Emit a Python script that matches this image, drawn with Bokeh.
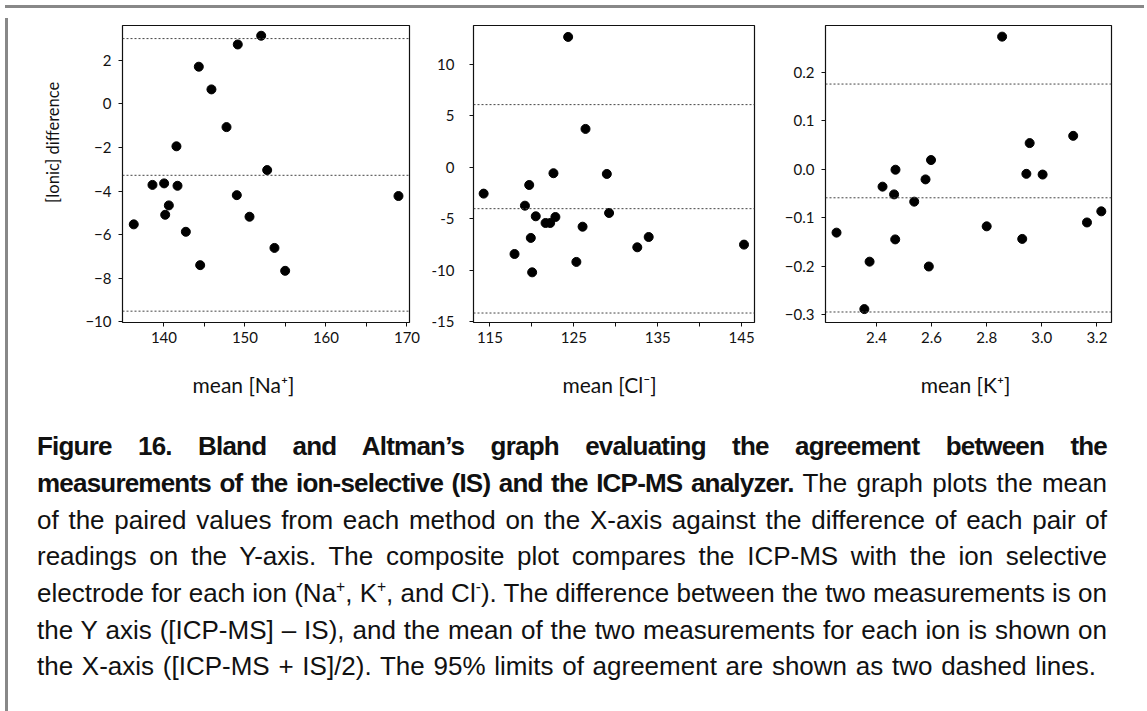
from bokeh.plotting import figure
from bokeh.models import Span, FixedTicker, CustomJSTickFormatter, Range1d, Div
from bokeh.layouts import row, column
from bokeh.core.properties import value
from bokeh.embed import file_html
from bokeh.resources import INLINE

# ---------------- data ----------------
na_mean = [136.27, 138.58, 140.02, 140.15, 140.60, 141.54, 141.67, 142.70, 144.30, 144.47,
           145.86, 147.72, 149.11, 148.99, 150.56, 152.00, 152.74, 153.64, 154.96, 168.95]
na_diff = [-5.53, -3.72, -3.65, -5.09, -4.66, -1.95, -3.76, -5.87, 1.70, -7.40,
           0.66, -1.07, 2.72, -4.19, -5.18, 3.12, -3.04, -6.61, -7.66, -4.23]
na_limits = [2.99, -3.28, -9.51]

cl_mean = [114.25, 117.93, 119.17, 119.68, 119.87, 120.03, 120.46, 121.63, 122.18, 122.57,
           122.80, 124.32, 125.30, 126.04, 126.39, 128.93, 129.20, 132.56, 133.92, 145.28]
cl_diff = [-2.56, -8.42, -3.73, -1.72, -6.86, -10.20, -4.76, -5.41, -5.41, -0.58,
           -4.83, 12.65, -9.19, -5.77, 3.72, -0.65, -4.44, -7.77, -6.77, -7.51]
cl_limits = [6.08, -4.02, -14.15]

k_mean = [2.255, 2.356, 2.375, 2.422, 2.464, 2.469, 2.468, 2.537, 2.578, 2.590,
          2.598, 2.800, 2.856, 2.929, 2.944, 2.956, 3.003, 3.114, 3.164, 3.216]
k_diff = [-0.131, -0.289, -0.191, -0.036, -0.052, -0.001, -0.145, -0.067, -0.021, -0.201,
          0.019, -0.118, 0.274, -0.144, -0.0095, 0.054, -0.011, 0.069, -0.110, -0.087]
k_limits = [0.176, -0.059, -0.295]

na_xticks, na_xminor = [140, 150, 160, 170], [145, 155, 165]
cl_xticks, cl_xminor = [115, 125, 135, 145], [120, 130, 140]
k_xticks, k_xminor = [2.4, 2.6, 2.8, 3.0, 3.2], []
na_yticks = [-10, -8, -6, -4, -2, 0, 2]
cl_yticks = [-15, -10, -5, 0, 5, 10]
k_yticks = [-0.3, -0.2, -0.1, 0.0, 0.1, 0.2]

x_titles = ["mean [Na\u207a]", "mean [Cl\u207b]", "mean [K\u207a]"]
y_title = "[Ionic] difference"

caption_lines = [
    "<b>Figure 16. Bland and Altman\u2019s graph evaluating the agreement between the</b>",
    "<b>measurements of the ion-selective (IS) and the ICP-MS analyzer.</b> The graph plots the mean",
    "of the paired values from each method on the X-axis against the difference of each pair of",
    "readings on the Y-axis. The composite plot compares the ICP-MS with the ion selective",
    "electrode for each ion (Na<sup>+</sup>, K<sup>+</sup>, and Cl<sup>-</sup>). The difference between the two measurements is on",
    "the Y axis ([ICP-MS] \u2013 IS), and the mean of the two measurements for each ion is shown on",
    "the X-axis ([ICP-MS + IS]/2). The 95% limits of agreement are shown as two dashed lines.",
]

FONT = "Lato"
INK = "#111111"

minus_int = CustomJSTickFormatter(code="return tick < 0 ? '\u2212' + Math.abs(tick) : String(tick);")
minus_dec = CustomJSTickFormatter(code="return tick < 0 ? '\u2212' + Math.abs(tick).toFixed(1) : Math.abs(tick).toFixed(1);")
plain_int = CustomJSTickFormatter(code="return String(tick);")
plain_dec = CustomJSTickFormatter(code="return tick.toFixed(1);")

PANEL_H = 348


def panel(xs, ys, limits, xr, yr, xticks, xminor, yticks, xfmt, yfmt,
          width, left, right, ystand):
    p = figure(width=width, height=PANEL_H, x_range=Range1d(*xr), y_range=Range1d(*yr),
               output_backend="svg", toolbar_location=None,
               min_border_left=left, min_border_right=right,
               min_border_top=12, min_border_bottom=PANEL_H - 12 - 297)
    p.xgrid.visible = False
    p.ygrid.visible = False
    p.outline_line_color = INK
    p.outline_line_width = 1.2
    p.border_fill_color = "white"
    p.background_fill_color = "white"
    for lim in limits:
        p.add_layout(Span(location=lim, dimension="width", line_color="#444444",
                          line_dash="2 2", line_width=1))
    p.scatter(xs, ys, size=9, color="black")

    p.xaxis.ticker = FixedTicker(ticks=xticks, minor_ticks=xminor)
    p.yaxis.ticker = FixedTicker(ticks=yticks, minor_ticks=[])
    p.xaxis.formatter = xfmt
    p.yaxis.formatter = yfmt
    for ax in (p.xaxis, p.yaxis):
        ax.axis_line_color = None
        ax.major_tick_in = 0
        ax.major_tick_out = 4
        ax.minor_tick_in = 0
        ax.minor_tick_out = 4
        ax.major_tick_line_color = INK
        ax.minor_tick_line_color = INK
        ax.major_label_text_font = FONT
        ax.major_label_text_font_size = "15px"
        ax.major_label_text_color = INK
    p.xaxis.major_label_standoff = 5
    p.yaxis.major_label_standoff = ystand
    return p


def blank(width, height):
    f = figure(width=width, height=height, x_range=Range1d(0, width), y_range=Range1d(0, height),
               output_backend="svg", toolbar_location=None, x_axis_type=None, y_axis_type=None,
               min_border=0)
    f.xgrid.visible = False
    f.ygrid.visible = False
    f.outline_line_color = None
    f.border_fill_color = "white"
    f.background_fill_color = "white"
    return f


# y-axis title strip (left of the first panel)
yt = blank(65, PANEL_H)
yt.text(x=[39], y=[PANEL_H - 137], text=[y_title], angle=1.5707963,
        text_align="center", text_baseline="middle",
        text_font=value(FONT), text_font_size=value("16.5px"), text_color=INK)

p1 = panel(na_mean, na_diff, na_limits, (134.88, 170.31), (-10.03, 3.59),
           na_xticks, na_xminor, na_yticks, plain_int, minus_int, 350, 44, 19, 7)
p2 = panel(cl_mean, cl_diff, cl_limits, (113.04, 146.53), (-15.07, 13.76),
           cl_xticks, cl_xminor, cl_yticks, plain_int, plain_int, 352, 40, 26, 15)
p3 = panel(k_mean, k_diff, k_limits, (2.215, 3.253), (-0.3167, 0.297),
           k_xticks, k_xminor, k_yticks, plain_dec, minus_dec, 347, 45, 16, 7)

# x-axis title strip (below the panels)
STRIP_H = 50
xt = blank(1114, STRIP_H)
xt.text(x=[230, 596, 952], y=[STRIP_H - 23] * 3, text=x_titles,
        text_align="center", text_baseline="middle",
        text_font=value(FONT), text_font_size=value("21px"), text_color=INK)

body = "".join(
    '<div style="text-align:justify;text-align-last:justify;word-spacing:-4px;">%s</div>' % ln
    for ln in caption_lines[:-1]
) + '<div style="text-align:left;word-spacing:1.5px;">%s</div>' % caption_lines[-1]
body = body.replace("<b>", '<b style="letter-spacing:-0.8px;">')
body = body.replace("<sup>", '<sup style="font-size:60%;line-height:0;">')
caption_html = (
    '<div style="box-sizing:content-box;padding:12.2px 0 0 19px;width:1070px;'
    "font-family:'Liberation Sans',Arial,sans-serif;font-size:26px;line-height:36.7px;"
    'color:#111111;">' + body + "</div>"
)
cap = Div(text=caption_html, width=1136, height=302)

topbar = Div(text="", width=1139, height=3, styles={"background-color": "#888888"})
leftbar = Div(text="", width=3, height=700, styles={"background-color": "#888888"})

content = column(row(yt, p1, p2, p3), xt, cap)
root = column(topbar, row(leftbar, content))

open("out.html", "w").write(file_html(root, INLINE))
